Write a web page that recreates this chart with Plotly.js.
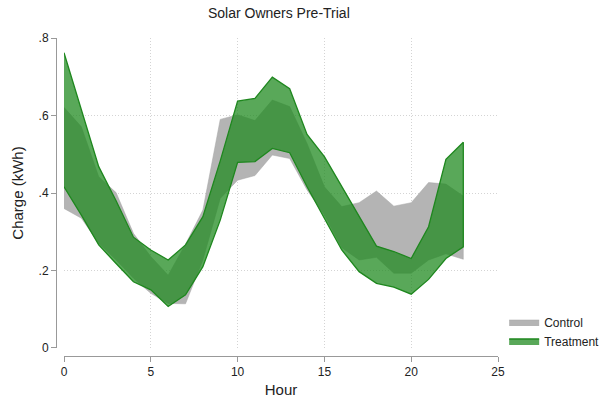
<!DOCTYPE html>
<html>
<head>
<meta charset="utf-8">
<script src="https://cdn.plot.ly/plotly-3.0.1.min.js"></script>
<style>html,body{margin:0;padding:0;background:#fff;}#chart{width:601px;height:398px;}</style>
</head>
<body>
<div id="chart"></div>
<script>
var hours = [0,1,2,3,4,5,6,7,8,9,10,11,12,13,14,15,16,17,18,19,20,21,22,23];
var controlUpper = [0.621,0.571,0.442,0.401,0.296,0.236,0.188,0.268,0.356,0.590,0.602,0.587,0.640,0.623,0.528,0.416,0.365,0.375,0.405,0.366,0.375,0.427,0.423,0.392];
var controlLower = [0.360,0.335,0.270,0.227,0.180,0.141,0.115,0.114,0.227,0.386,0.433,0.445,0.498,0.489,0.408,0.343,0.259,0.227,0.234,0.193,0.193,0.227,0.243,0.229];
var treatUpper = [0.762,0.617,0.468,0.380,0.286,0.253,0.227,0.266,0.339,0.483,0.637,0.644,0.699,0.669,0.551,0.494,0.416,0.339,0.263,0.249,0.231,0.313,0.487,0.531];
var treatLower = [0.416,0.343,0.266,0.218,0.171,0.150,0.107,0.137,0.210,0.330,0.479,0.481,0.515,0.504,0.416,0.335,0.253,0.197,0.167,0.157,0.139,0.177,0.231,0.261];
var yTickVals = [0, 0.2, 0.4, 0.6, 0.8];
var yTickText = ['0', '.2', '.4', '.6', '.8'];
var xTickVals = [0, 5, 10, 15, 20, 25];

function band(xs, up, lo) {
  return {
    x: xs.concat(xs.slice().reverse()),
    y: up.concat(lo.slice().reverse())
  };
}
var cb = band(hours, controlUpper, controlLower);
var tb = band(hours, treatUpper, treatLower);

var traces = [
  {x: cb.x, y: cb.y, type: 'scatter', mode: 'lines', fill: 'toself', name: 'Control',
   fillcolor: 'rgb(180,180,180)', line: {width: 0.5, color: 'rgb(165,165,165)'}, hoverinfo: 'skip'},
  {x: tb.x, y: tb.y, type: 'scatter', mode: 'lines', fill: 'toself', name: 'Treatment',
   fillcolor: 'rgba(34,139,34,0.75)', line: {width: 1.3, color: 'rgb(30,135,30)'}, hoverinfo: 'skip'}
];

var axFont = {family: 'Liberation Sans, Arial, sans-serif', size: 12, color: '#222'};
var layout = {
  width: 601, height: 398,
  margin: {l: 40, r: 80, t: 30, b: 30, autoexpand: false},
  paper_bgcolor: '#fff', plot_bgcolor: '#fff',
  font: {family: 'Liberation Sans, Arial, sans-serif', color: '#222'},
  title: {text: 'Solar Owners Pre-Trial', x: 0.464, xanchor: 'center', y: 0.98, yanchor: 'top',
          font: {size: 14, color: '#222'}},
  showlegend: true,
  legend: {x: 0.965, xanchor: 'left', y: 0.037, yanchor: 'bottom', font: {size: 12, color: '#222'},
           bgcolor: 'rgba(0,0,0,0)', tracegroupgap: 0, itemwidth: 30},
  xaxis: {
    domain: [0.0499, 0.9522], range: [0, 25], anchor: 'free', position: 0.0355,
    tickvals: xTickVals, ticks: 'outside', ticklen: 5, tickcolor: '#999', tickwidth: 1,
    showline: true, linecolor: '#999', linewidth: 1,
    showgrid: true, gridcolor: '#d4d4d4', griddash: '1px,2px', gridwidth: 1, zeroline: false,
    tickfont: axFont,
    title: {text: 'Hour', font: {size: 15, color: '#222'}, standoff: 8}
  },
  yaxis: {
    domain: [0.0592, 0.9763], range: [0, 0.8], anchor: 'free', position: 0.0333,
    tickvals: yTickVals, ticktext: yTickText, ticks: 'outside', ticklen: 5, tickcolor: '#999', tickwidth: 1,
    showline: true, linecolor: '#999', linewidth: 1,
    showgrid: true, gridcolor: '#d4d4d4', griddash: '1px,2px', gridwidth: 1, zeroline: false,
    tickfont: axFont,
    title: {text: 'Charge (kWh)', font: {size: 15, color: '#222'}, standoff: 10}
  }
};
Plotly.newPlot('chart', traces, layout, {displayModeBar: false, staticPlot: true});
</script>
</body>
</html>
